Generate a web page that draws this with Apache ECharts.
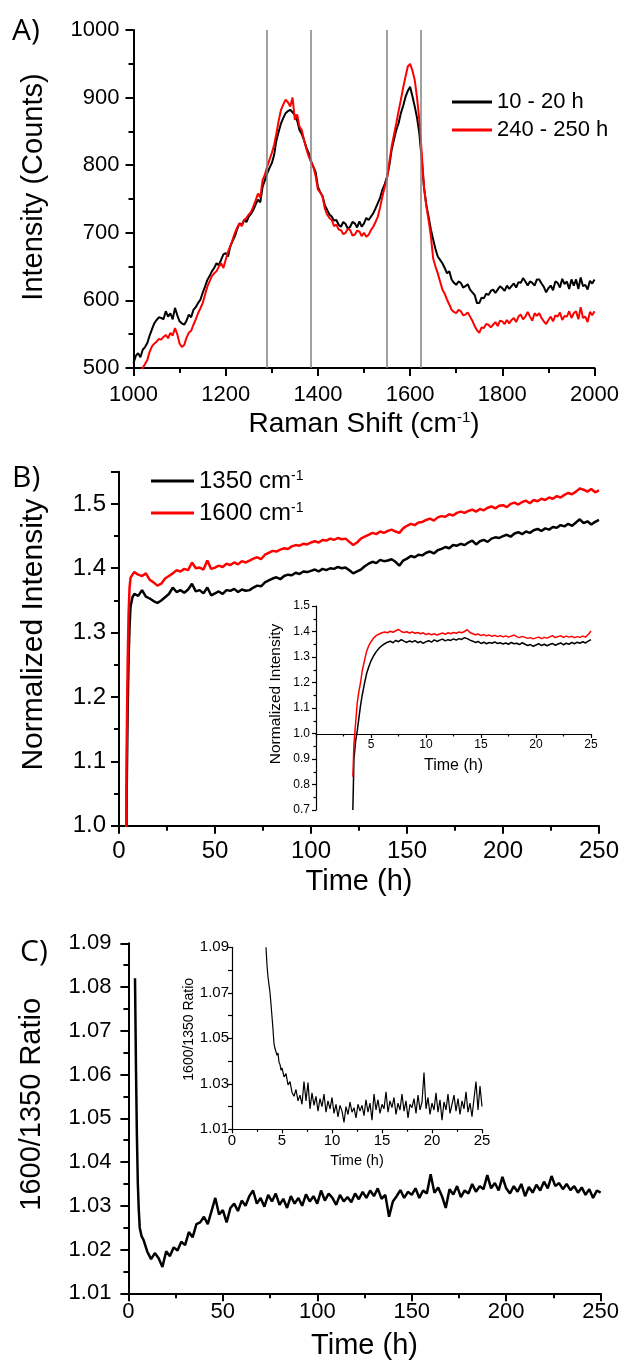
<!DOCTYPE html>
<html><head><meta charset="utf-8">
<script src="https://cdn.jsdelivr.net/npm/echarts@6.0.0/dist/echarts.min.js"></script>
<style>html,body{margin:0;padding:0;background:#fff}#chart{width:622px;height:1367px}</style>
</head><body><div id="chart"></div>
<script>
// ---------- helpers for building category/time axes ----------
function range(a, b, s) { const out = []; const n = Math.round((b - a) / s); for (let i = 0; i <= n; i++) out.push(+(a + i * s).toFixed(3)); return out; }
function zip(xs, ys) { return xs.map((x, i) => [x, ys[i]]); }

// ---------- Panel A: Raman spectra ----------
const ramanShift = range(1000, 2000, 5);
const spec10to20h = [
 507,518,522,516,527,531,537,548,557,566,
 571,575,574,572,584,576,581,572,589,578,
 569,566,564,570,579,575,586,590,596,601,
 611,620,630,636,643,648,655,652,660,668,
 670,665,680,688,695,706,714,712,719,716,
 724,728,734,742,749,745,768,778,788,796,
 803,815,837,850,862,870,877,880,882,878,
 874,866,852,846,837,826,818,806,798,790,
 768,760,754,741,734,727,724,718,719,712,
 709,716,713,706,709,716,714,708,717,709,
 714,722,719,724,729,736,744,752,764,772,
 783,800,823,838,852,862,877,888,901,910,
 916,902,887,870,847,810,768,742,724,705,
 690,676,665,660,655,648,640,643,631,626,
 623,628,626,619,621,624,616,612,608,596,
 596,604,603,610,608,614,616,611,616,621,
 618,614,622,617,621,625,619,627,626,633,
 628,622,628,626,622,631,631,625,620,612,
 618,622,615,628,626,619,632,624,628,617,
 631,622,631,617,634,621,623,616,629,625,
 631];
const spec240to250h = [
 null,null,null,495,500,506,512,524,532,536,
 539,543,542,546,549,544,552,548,559,550,
 536,531,534,545,552,555,564,572,581,588,
 596,608,620,628,636,640,643,650,655,648,
 660,672,680,690,700,708,714,710,719,722,
 727,731,739,748,758,752,778,786,798,808,
 818,830,847,866,882,890,897,893,887,900,
 867,875,857,852,837,824,813,805,798,784,
 764,760,754,736,727,722,719,710,712,705,
 704,698,700,706,704,696,697,703,702,695,
 700,694,697,704,709,716,724,738,754,768,
 781,805,828,845,862,880,897,915,931,946,
 950,940,926,900,867,820,768,740,719,695,
 662,650,640,628,616,610,601,594,586,583,
 581,586,584,578,579,582,576,570,562,556,
 552,560,559,565,564,560,564,568,562,570,
 569,565,571,566,571,574,568,576,579,572,
 576,583,576,570,581,577,581,574,569,565,
 571,576,569,578,576,582,571,577,576,584,
 574,581,584,572,590,574,576,568,583,578,
 584];
const markerShifts = [1290, 1385, 1550, 1622];
const specNames = ['10 - 20 h', '240 - 250 h'];

// ---------- Panel B: normalized intensity vs time ----------
const timeB = [3.5, 4, 4.5, 5, 5.5, 6, 7].concat(range(8, 250, 2));
const norm1350 = [0.70,1.05,1.18,1.26,1.31,1.34,1.355,
 1.360,1.357,1.366,1.356,1.353, 1.349,1.346,1.350,1.355,1.360,
 1.370,1.363,1.366,1.362,1.367, 1.376,1.364,1.366,1.361,1.370,
 1.358,1.361,1.364,1.360,1.366, 1.365,1.368,1.363,1.367,1.365,
 1.366,1.370,1.373,1.372,1.378, 1.381,1.384,1.386,1.383,1.388,
 1.390,1.389,1.393,1.391,1.395, 1.394,1.396,1.398,1.395,1.399,
 1.397,1.400,1.399,1.402,1.400, 1.401,1.397,1.392,1.395,1.398,
 1.403,1.407,1.410,1.408,1.413, 1.411,1.412,1.414,1.410,1.404,
 1.412,1.415,1.419,1.417,1.421, 1.420,1.424,1.426,1.423,1.428,
 1.430,1.433,1.431,1.436,1.435, 1.438,1.436,1.440,1.443,1.437,
 1.442,1.444,1.441,1.446,1.448, 1.447,1.450,1.452,1.449,1.454,
 1.456,1.453,1.457,1.455,1.459, 1.461,1.458,1.462,1.460,1.464,
 1.463,1.467,1.465,1.469,1.466, 1.471,1.476,1.470,1.473,1.468,
 1.472,1.475];
const norm1600 = [0.83,1.12,1.25,1.33,1.37,1.385,1.39,
 1.394,1.390,1.388,1.392,1.382, 1.378,1.373,1.376,1.384,1.388,
 1.392,1.397,1.395,1.399,1.397, 1.409,1.400,1.401,1.398,1.412,
 1.399,1.401,1.404,1.402,1.407, 1.405,1.409,1.406,1.411,1.409,
 1.412,1.415,1.417,1.414,1.421, 1.424,1.427,1.426,1.429,1.431,
 1.430,1.434,1.436,1.435,1.438, 1.437,1.440,1.442,1.440,1.444,
 1.443,1.446,1.444,1.447,1.445, 1.446,1.441,1.436,1.440,1.446,
 1.449,1.452,1.455,1.453,1.457, 1.455,1.458,1.460,1.457,1.455,
 1.462,1.466,1.469,1.467,1.471, 1.472,1.475,1.477,1.474,1.479,
 1.481,1.480,1.484,1.482,1.486, 1.488,1.486,1.489,1.491,1.488,
 1.492,1.490,1.494,1.496,1.493, 1.497,1.498,1.495,1.500,1.502,
 1.499,1.503,1.505,1.501,1.506, 1.504,1.508,1.506,1.510,1.508,
 1.512,1.510,1.514,1.517,1.515, 1.519,1.524,1.522,1.519,1.523,
 1.518,1.521];
const bandNames = ['1350 cm-1', '1600 cm-1'];

// inset of panel B (first 25 h)
const timeInsetB = [3.35,3.45,3.6,3.75,3.9,4.05,4.2,4.4,4.6,4.8,5.0,5.25,5.5,5.75,6.0].concat(range(6.25, 25, 0.25));
const inset1350 = [0.70,0.90,0.97,1.01,1.06,1.11,1.15,1.195,1.235,1.262,1.285,1.306,1.322,1.335,1.345,
 1.352,1.358,1.362,1.356, 1.365,1.360,1.368,1.362, 1.357,1.363,1.359,1.364, 1.356,1.361,1.353,1.360,
 1.364,1.358,1.367,1.361, 1.366,1.370,1.363,1.368, 1.365,1.371,1.366,1.372, 1.369,1.376,1.372,1.366,
 1.362,1.357,1.361,1.353, 1.358,1.352,1.357,1.354, 1.359,1.353,1.356,1.351, 1.355,1.350,1.357,1.352,
 1.354,1.349,1.356,1.350, 1.345,1.349,1.342,1.347, 1.352,1.345,1.350,1.344, 1.349,1.353,1.346,1.351,
 1.355,1.348,1.354,1.350, 1.357,1.352,1.358,1.354, 1.360,1.355,1.362,1.368];
const inset1600 = [0.83,0.96,1.04,1.12,1.165,1.20,1.245,1.285,1.322,1.345,1.36,1.375,1.385,1.39,1.395,
 1.398,1.395,1.401,1.397, 1.403,1.408,1.400,1.396, 1.399,1.394,1.398,1.393, 1.396,1.391,1.395,1.388,
 1.392,1.387,1.391,1.386, 1.390,1.394,1.389,1.395, 1.391,1.396,1.393,1.398, 1.395,1.400,1.407,1.396,
 1.391,1.387,1.390,1.384, 1.388,1.383,1.386,1.381, 1.385,1.380,1.384,1.379, 1.383,1.378,1.382,1.386,
 1.380,1.376,1.381,1.377, 1.373,1.376,1.371,1.375, 1.378,1.372,1.377,1.374, 1.379,1.384,1.376,1.380,
 1.383,1.377,1.382,1.378, 1.381,1.376,1.380,1.377, 1.382,1.378,1.388,1.402];

// ---------- Panel C: 1600/1350 ratio ----------
const timeC = [3.5, 4, 4.5, 5, 5.5, 6, 7].concat(range(8, 250, 2));
const ratioC = [1.082,1.062,1.046,1.035,1.029,1.025,1.023,
 1.0222,1.0195,1.0178,1.0192,1.0180, 1.0160,1.0196,1.0185,1.0205,1.0198,
 1.0218,1.0210,1.0240,1.0228,1.0258, 1.0262,1.0275,1.0258,1.0288,1.0318,
 1.0280,1.0290,1.0262,1.0295,1.0305, 1.0288,1.0312,1.0300,1.0322,1.0335,
 1.0305,1.0318,1.0298,1.0325,1.0310, 1.0328,1.0302,1.0316,1.0295,1.0322,
 1.0305,1.0318,1.0300,1.0326,1.0310, 1.0322,1.0305,1.0335,1.0312,1.0328,
 1.0318,1.0302,1.0325,1.0310,1.0320, 1.0308,1.0328,1.0315,1.0332,1.0318,
 1.0335,1.0322,1.0340,1.0316,1.0325, 1.0275,1.0310,1.0322,1.0336,1.0318,
 1.0332,1.0325,1.0340,1.0318,1.0335, 1.0328,1.0372,1.0330,1.0342,1.0322,
 1.0295,1.0338,1.0326,1.0345,1.0320, 1.0335,1.0328,1.0350,1.0332,1.0345,
 1.0338,1.0370,1.0340,1.0352,1.0335, 1.0366,1.0340,1.0328,1.0345,1.0332,
 1.0350,1.0322,1.0343,1.0330,1.0348, 1.0335,1.0355,1.0340,1.0368,1.0345,
 1.0352,1.0338,1.0350,1.0336,1.0345, 1.0330,1.0342,1.0325,1.0338,1.0318,
 1.0335,1.0330];
const timeInsetC = range(3.4, 5.0, 0.1).concat(range(5.2, 25, 0.2));
const ratioInsetC = [1.0900,1.0820,1.0770,1.0735,1.0700,1.0650,1.0595,1.0540,1.0475,1.0455,1.0440,1.0425,1.0435,1.0395,1.0385,1.0360,1.0370,
 1.0330,1.0345,1.0295,1.0310,1.0262, 1.0245,1.0275,1.0225,1.0250,1.0210,
 1.0310,1.0225,1.0305,1.0190,1.0260, 1.0205,1.0245,1.0180,1.0235,1.0200,
 1.0255,1.0175,1.0225,1.0190,1.0240, 1.0170,1.0210,1.0155,1.0205,1.0180,
 1.0130,1.0200,1.0165,1.0220,1.0175, 1.0195,1.0150,1.0210,1.0180,1.0205,
 1.0160,1.0230,1.0175,1.0215,1.0140, 1.0255,1.0185,1.0230,1.0170,1.0210,
 1.0190,1.0265,1.0175,1.0225,1.0195, 1.0240,1.0165,1.0215,1.0185,1.0255,
 1.0180,1.0225,1.0150,1.0210,1.0195, 1.0235,1.0170,1.0250,1.0185,1.0220,
 1.0350,1.0190,1.0240,1.0165,1.0215, 1.0185,1.0260,1.0175,1.0230,1.0140,
 1.0220,1.0185,1.0255,1.0170,1.0210, 1.0250,1.0180,1.0235,1.0165,1.0225,
 1.0190,1.0265,1.0175,1.0215,1.0155, 1.0235,1.0310,1.0185,1.0290,1.0200];

// ---------- chart ----------
const FONT = '"Liberation Sans", Arial, sans-serif';
const BLACK = '#000000', RED = '#ff0000';
const plain = v => String(v);

function vAxis(o) {
  const lw = o.lw || 2;
  return {
    type: 'value', gridIndex: o.grid, min: o.min, max: o.max, interval: o.interval,
    show: o.show !== false, position: o.position,
    splitLine: { show: false }, minorSplitLine: { show: false },
    axisLine: { show: true, onZero: false, lineStyle: { color: BLACK, width: lw } },
    axisTick: { show: true, inside: false, length: o.tl || 8, lineStyle: { color: BLACK, width: lw } },
    minorTick: { show: o.minor !== false, splitNumber: 2, length: o.ml || 5, lineStyle: { color: BLACK, width: lw } },
    axisLabel: { color: BLACK, fontFamily: FONT, fontSize: o.fs, margin: o.margin, formatter: o.fmt || plain,
                 showMinLabel: o.showMin, showMaxLabel: o.showMax },
    name: o.name, nameLocation: 'middle', nameGap: o.nameGap,
    nameTextStyle: { color: BLACK, fontFamily: FONT, fontSize: o.nfs, padding: o.npad || 0,
                     rich: { sup: { fontFamily: FONT, fontSize: Math.round((o.nfs || 20) * 0.55), verticalAlign: 'top', color: BLACK } } }
  };
}
function lineSeries(name, xi, yi, data, color, width, extra) {
  return Object.assign({ type: 'line', name: name, xAxisIndex: xi, yAxisIndex: yi, data: data,
    showSymbol: false, symbol: 'none', clip: true, lineStyle: { color: color, width: width }, itemStyle: { color: color },
    emphasis: { disabled: true }, animation: false }, extra || {});
}

const chart = echarts.init(document.getElementById('chart'), null, { renderer: 'canvas' });
chart.setOption({
  backgroundColor: '#ffffff',
  animation: false,
  title: [
    { text: 'A)', left: 12, top: 16, padding: 0, textStyle: { fontFamily: '"Open Sans", sans-serif', fontWeight: 'normal', fontSize: 30, color: BLACK } },
    { text: 'B)', left: 12, top: 463, padding: 0, textStyle: { fontFamily: '"Open Sans", sans-serif', fontWeight: 'normal', fontSize: 30, color: BLACK } },
    { text: 'C)', left: 20, top: 937, padding: 0, textStyle: { fontFamily: '"Open Sans", sans-serif', fontWeight: 'normal', fontSize: 30, color: BLACK } }
  ],
  legend: [
    { data: specNames, orient: 'vertical', left: 452, top: 91, padding: 0, icon: 'rect', itemWidth: 40, itemHeight: 3, itemGap: 6,
      selectedMode: false, textStyle: { color: BLACK, fontFamily: FONT, fontSize: 22 } },
    { data: bandNames, orient: 'vertical', left: 151, top: 469, padding: 0, icon: 'rect', itemWidth: 43, itemHeight: 3, itemGap: 8,
      selectedMode: false, formatter: n => n.replace(' cm-1', ' cm{sup|-1}'),
      textStyle: { color: BLACK, fontFamily: FONT, fontSize: 24, rich: { sup: { fontFamily: FONT, fontSize: 14, verticalAlign: 'top', color: BLACK } } } }
  ],
  grid: [
    { left: 133.5, top: 30, width: 463.5, height: 338 },      // 0 A
    { left: 119, top: 471.7, width: 483, height: 354 },       // 1 B
    { left: 316, top: 606, width: 275, height: 204 },         // 2 inset B (plot)
    { left: 316, top: 606, width: 275, height: 128 },         // 3 inset B (x-axis at 1.0)
    { left: 128.4, top: 943.3, width: 473.6, height: 350 },   // 4 C
    { left: 232, top: 947.3, width: 250, height: 182 }        // 5 inset C
  ],
  xAxis: [
    vAxis({ grid: 0, min: 1000, max: 2000, interval: 200, fs: 22, margin: 16, name: 'Raman Shift (cm{sup|-1})', nameGap: 42, nfs: 28 }),
    vAxis({ grid: 1, min: 0, max: 250, interval: 50, fs: 24, margin: 14, name: 'Time (h)', nameGap: 42, nfs: 29 }),
    vAxis({ grid: 2, min: 0, max: 25, show: false }),
    vAxis({ grid: 3, min: 0, max: 25, interval: 5, lw: 1.2, tl: 4, ml: 2.5, fs: 12, margin: 5, showMin: false,
            name: 'Time (h)', nameGap: 24, nfs: 16 }),
    vAxis({ grid: 4, min: 0, max: 250, interval: 50, fs: 22, margin: 8, name: 'Time (h)', nameGap: 38, nfs: 29 }),
    vAxis({ grid: 5, min: 0, max: 25, interval: 5, lw: 1.2, tl: 4, ml: 2.5, fs: 15, margin: 4,
            name: 'Time (h)', nameGap: 24, nfs: 14.5 })
  ],
  yAxis: [
    vAxis({ grid: 0, min: 500, max: 1000, interval: 100, fs: 22, margin: 14, name: 'Intensity (Counts)', nameGap: 85, nfs: 29, npad: [0, 0, 0, 24] }),
    vAxis({ grid: 1, min: 1.0, max: 1.55, interval: 0.1, fs: 24, margin: 13,
            fmt: v => (v > 1.501 ? '' : v.toFixed(1)), name: 'Normalized Intensity', nameGap: 70, nfs: 30, npad: [0, 0, 0, 28] }),
    vAxis({ grid: 2, min: 0.7, max: 1.5, interval: 0.1, lw: 1.2, tl: 4, ml: 2.5, fs: 12, margin: 6,
            fmt: v => v.toFixed(1), name: 'Normalized Intensity', nameGap: 32, nfs: 15.5, npad: [0, 0, 0, 28] }),
    vAxis({ grid: 3, min: 0, max: 1, show: false }),
    vAxis({ grid: 4, min: 1.01, max: 1.09, interval: 0.01, fs: 22, margin: 17,
            fmt: v => v.toFixed(2), name: '1600/1350 Ratio', nameGap: 82, nfs: 29, npad: [0, 0, 0, 28] }),
    vAxis({ grid: 5, min: 1.01, max: 1.09, interval: 0.01, lw: 1.2, tl: 4, minor: false, fs: 15, margin: 3,
            fmt: v => (Math.round((v - 1.01) / 0.01) % 2 === 0 ? v.toFixed(2) : ''), name: '1600/1350 Ratio', nameGap: 36, nfs: 14, npad: [0, 0, 0, 18] })
  ],
  series: [
    lineSeries(specNames[0], 0, 0, zip(ramanShift, spec10to20h), BLACK, 2, {
      markLine: { silent: true, symbol: ['none', 'none'], label: { show: false }, animation: false,
                  lineStyle: { color: '#808080', width: 1.5, type: 'solid' },
                  data: markerShifts.map(v => ({ xAxis: v })) } }),
    lineSeries(specNames[1], 0, 0, zip(ramanShift, spec240to250h), RED, 2, { connectNulls: false }),
    lineSeries(bandNames[0], 1, 1, zip(timeB, norm1350), BLACK, 2.5),
    lineSeries(bandNames[1], 1, 1, zip(timeB, norm1600), RED, 2.5),
    lineSeries(bandNames[0], 2, 2, zip(timeInsetB, inset1350), BLACK, 1.5),
    lineSeries(bandNames[1], 2, 2, zip(timeInsetB, inset1600), RED, 1.5),
    lineSeries('ratio', 4, 4, zip(timeC, ratioC), BLACK, 2.5),
    lineSeries('ratio inset', 5, 5, zip(timeInsetC, ratioInsetC), BLACK, 1.2)
  ]
});
</script></body></html>
